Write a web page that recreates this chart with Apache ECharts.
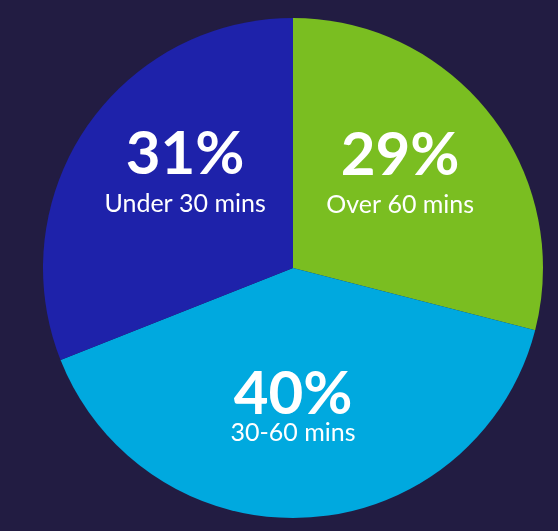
<!DOCTYPE html>
<html>
<head>
<meta charset="utf-8">
<script src="https://cdn.jsdelivr.net/npm/echarts@6/dist/echarts.min.js"></script>
<style>
html,body{margin:0;padding:0;background:#221c42;}
#c{width:558px;height:531px;}
</style>
</head>
<body>
<div id="c"></div>
<script>
const categories = ['Over 60 mins', '30-60 mins', 'Under 30 mins'];
const values = [29, 40, 31];
const colors = ['#7abe21', '#00a9df', '#1e22aa'];
const labelShift = [[6, -17], [-8, 10], [-2, -24]];
const labelLines = [[64, 34], [54, 23], [64, 34]];

function richFor(i) {
  return {
    p: {fontFamily: 'Lato', fontWeight: 'bold', fontSize: 60, color: '#fff', lineHeight: labelLines[i][0], align: 'center'},
    s: {fontFamily: 'Lato', fontWeight: 'normal', fontSize: 25, color: '#fff', lineHeight: labelLines[i][1], align: 'center'}
  };
}

const chart = echarts.init(document.getElementById('c'), null, {renderer: 'canvas'});
chart.setOption({
  backgroundColor: '#221c42',
  animation: false,
  series: [{
    type: 'pie',
    center: [293, 268],
    radius: 250,
    startAngle: 90,
    clockwise: true,
    silent: true,
    data: categories.map((c, i) => ({
      name: c, value: values[i],
      itemStyle: {color: colors[i]},
      label: {rich: richFor(i)}
    })),
    label: {
      show: true,
      position: 'inside',
      formatter: p => '{p|' + p.value + '%}\n{s|' + p.name + '}'
    },
    labelLine: {show: false},
    labelLayout: function (params) {
      const s = labelShift[params.dataIndex];
      return {dx: s[0], dy: s[1]};
    }
  }]
});
</script>
</body>
</html>
